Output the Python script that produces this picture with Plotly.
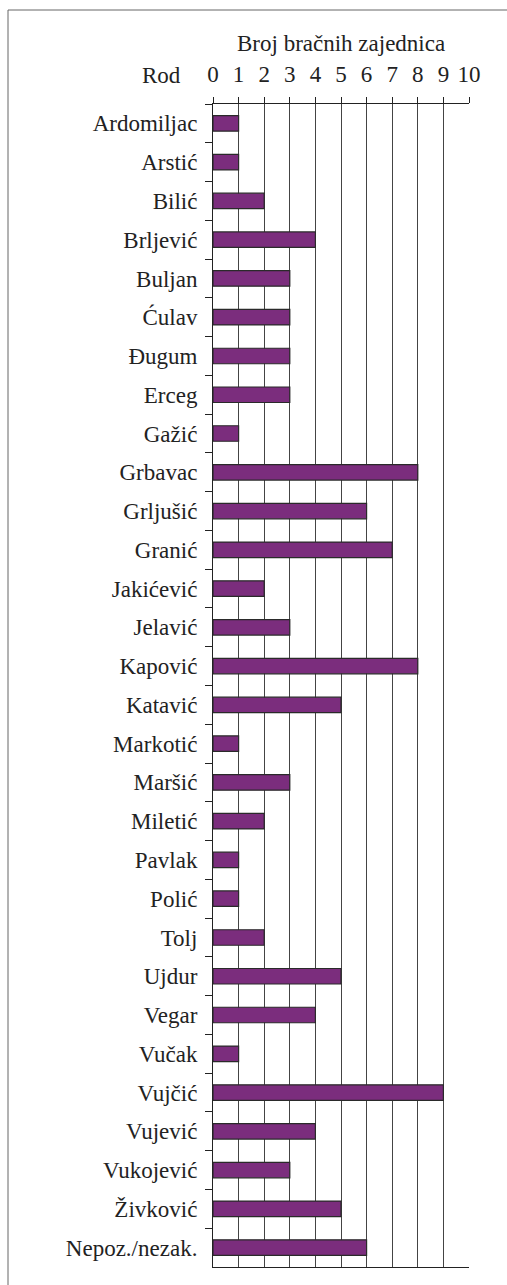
import plotly.graph_objects as go

categories = ["Ardomiljac", "Arstić", "Bilić", "Brljević", "Buljan", "Ćulav", "Đugum",
              "Erceg", "Gažić", "Grbavac", "Grljušić", "Granić", "Jakićević", "Jelavić",
              "Kapović", "Katavić", "Markotić", "Maršić", "Miletić", "Pavlak", "Polić",
              "Tolj", "Ujdur", "Vegar", "Vučak", "Vujčić", "Vujević", "Vukojević",
              "Živković", "Nepoz./nezak."]
values = [1, 1, 2, 4, 3, 3, 3, 3, 1, 8, 6, 7, 2, 3, 8, 5, 1, 3, 2, 1, 1, 2, 5, 4, 1, 9, 4, 3, 5, 6]
tick_vals = list(range(0, 11))
title_text = "Broj bračnih zajednica"
ylabel_text = "Rod"

W, H = 507, 1285
L, R, T, B = 213, 38, 104, 18
pw, ph = W - L - R, H - T - B

FONT = dict(family="Liberation Serif, Times New Roman, serif", size=23, color="#222")

fig = go.Figure(go.Bar(
    x=values, y=categories, orientation="h",
    marker=dict(color="#7B2D7D", line=dict(color="#2a2a2a", width=1.2)),
))

fig.update_layout(
    width=W, height=H,
    margin=dict(l=L, r=R, t=T, b=B, pad=0),
    paper_bgcolor="white", plot_bgcolor="white",
    bargap=0.6, showlegend=False, font=FONT,
)
fig.update_xaxes(
    side="top", range=[0, 10], tickvals=tick_vals, ticktext=[str(v) for v in tick_vals],
    showgrid=True, gridcolor="#444", gridwidth=1,
    showline=True, linecolor="#222", linewidth=1, mirror=True,
    ticks="outside", ticklen=6, tickcolor="#222", tickwidth=1,
    tickfont=FONT, ticklabelstandoff=6, zeroline=False,
)
fig.update_yaxes(
    autorange="reversed", categoryorder="array", categoryarray=categories,
    showline=True, linecolor="#222", linewidth=1, mirror=False,
    ticks="outside", tickson="boundaries", ticklen=7, tickcolor="#222", tickwidth=1,
    tickfont=FONT, ticklabelstandoff=10, showgrid=False,
)

# Title and "Rod" label
fig.add_annotation(text=title_text, xref="paper", yref="paper",
                   x=0.5, y=1 + (T - 44) / ph, xanchor="center", yanchor="middle",
                   showarrow=False, font=FONT)
fig.add_annotation(text=ylabel_text, xref="paper", yref="paper",
                   x=(183 - L) / pw, y=1 + (T - 76) / ph, xanchor="right", yanchor="middle",
                   showarrow=False, font=FONT)

# Outer frame
fig.add_shape(type="rect", xref="paper", yref="paper",
              x0=(8 - L) / pw, x1=(W + 5 - L) / pw,
              y0=-(B + 10) / ph, y1=1 + (T - 10) / ph,
              line=dict(color="#666", width=1), layer="below")

fig.write_html("out.html", config={"displayModeBar": False},
               post_script="document.body.style.margin='0';document.body.style.overflow='hidden';")
